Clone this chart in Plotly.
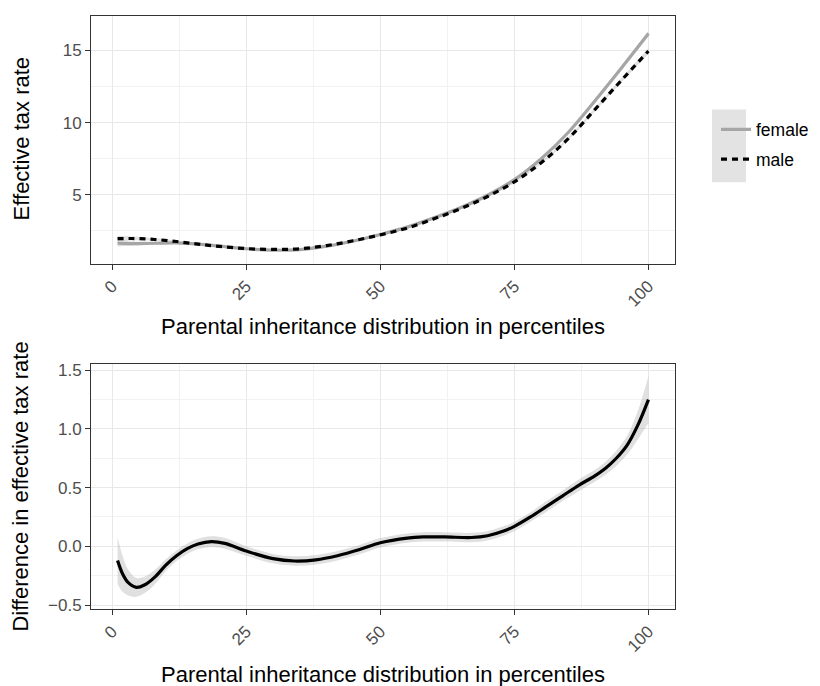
import plotly.graph_objects as go

# ---------------- data ----------------
pct = [1, 3, 5, 8, 12, 16, 20, 25, 30, 35, 40, 45, 50, 55, 60, 65, 70, 75, 80, 85, 90, 95, 100]
female_rate = [1.64, 1.62, 1.62, 1.64, 1.66, 1.58, 1.44, 1.26, 1.16, 1.2, 1.44, 1.8, 2.25, 2.76, 3.4, 4.12, 4.97, 6.05, 7.5, 9.3, 11.5, 13.8, 16.17]
female_se = [0.22, 0.16, 0.12, 0.09, 0.07, 0.06, 0.05, 0.05, 0.05, 0.05, 0.05, 0.05, 0.05, 0.05, 0.06, 0.06, 0.07, 0.08, 0.09, 0.1, 0.12, 0.14, 0.2]
male_rate = [1.96, 1.97, 1.96, 1.9, 1.76, 1.58, 1.42, 1.27, 1.21, 1.26, 1.48, 1.82, 2.22, 2.69, 3.33, 4.04, 4.88, 5.9, 7.22, 8.87, 10.9, 12.95, 14.96]
male_se = [0.2, 0.15, 0.11, 0.08, 0.07, 0.06, 0.05, 0.05, 0.05, 0.05, 0.05, 0.05, 0.05, 0.05, 0.06, 0.06, 0.07, 0.08, 0.09, 0.1, 0.12, 0.14, 0.2]

diff_pct = [1, 2, 3, 4.5, 6, 8, 10, 12, 14, 16, 18.5, 21, 25, 30, 34, 38, 42, 46, 50, 55, 58, 62, 67, 70, 73, 75, 78, 81, 84, 87, 90, 92, 94, 96, 98, 100]
diff_val = [-0.12, -0.24, -0.31, -0.35, -0.33, -0.26, -0.16, -0.08, -0.02, 0.02, 0.04, 0.025, -0.04, -0.105, -0.125, -0.115, -0.08, -0.03, 0.03, 0.07, 0.08, 0.08, 0.075, 0.09, 0.13, 0.17, 0.25, 0.34, 0.43, 0.52, 0.6, 0.665, 0.75, 0.86, 1.03, 1.25]
diff_se = [0.2, 0.15, 0.11, 0.08, 0.07, 0.06, 0.05, 0.045, 0.045, 0.045, 0.045, 0.045, 0.04, 0.04, 0.04, 0.04, 0.04, 0.04, 0.04, 0.04, 0.04, 0.04, 0.04, 0.04, 0.04, 0.04, 0.04, 0.045, 0.045, 0.05, 0.05, 0.055, 0.065, 0.08, 0.12, 0.2]

x_ticks = [0, 25, 50, 75, 100]
x_ticklabels = ["0", "25", "50", "75", "100"]
top_yticks = [5, 10, 15]
bot_yticks = [-0.5, 0.0, 0.5, 1.0, 1.5]

x_title = "Parental inheritance distribution in percentiles"
top_ytitle = "Effective tax rate"
bot_ytitle = "Difference in effective tax rate"

# ---------------- figure ----------------
RIB = "rgba(153,153,153,0.3)"
FONT = "Liberation Sans, Arial, sans-serif"
TICK_SIZE = 17
TITLE_SIZE = 22
LEG_SIZE = 17.5

fig = go.Figure()

def ribbon(x, y, se, xa, ya):
    up = [v + s for v, s in zip(y, se)]
    lo = [v - s for v, s in zip(y, se)]
    fig.add_trace(go.Scatter(x=x, y=up, mode="lines", line=dict(width=0, shape="spline"),
                             showlegend=False, hoverinfo="skip", xaxis=xa, yaxis=ya))
    fig.add_trace(go.Scatter(x=x, y=lo, mode="lines", line=dict(width=0, shape="spline"),
                             fill="tonexty", fillcolor=RIB, showlegend=False, hoverinfo="skip",
                             xaxis=xa, yaxis=ya))

ribbon(pct, female_rate, female_se, "x", "y")
ribbon(pct, male_rate, male_se, "x", "y")

fig.add_trace(go.Scatter(x=pct, y=female_rate, mode="lines", name="female",
                         line=dict(color="#A6A6A6", width=3.2, shape="spline"),
                         legendgroup="f", xaxis="x", yaxis="y"))
fig.add_trace(go.Scatter(x=pct, y=male_rate, mode="lines", name="male",
                         line=dict(color="black", width=3.2, dash="6px,5px", shape="spline"),
                         legendgroup="m", xaxis="x", yaxis="y"))

ribbon(diff_pct, diff_val, diff_se, "x2", "y2")
fig.add_trace(go.Scatter(x=diff_pct, y=diff_val, mode="lines", showlegend=False,
                         line=dict(color="black", width=3.2, shape="spline"),
                         xaxis="x2", yaxis="y2"))

# page has an 8px body margin: work in reference pixels, convert to figure pixels
OFF = 8
L, R, T, B = 91, 675, 13, 609
W, H = 820 - OFF, 686 - OFF
ph = B - T

def py(Y):
    return (B - Y) / ph

def px(X):
    return (X - L) / (R - L)

axis_common = dict(
    showline=True, linecolor="#333333", linewidth=1, mirror=True,
    ticks="outside", ticklen=5, tickcolor="#333333", tickwidth=1,
    showgrid=True, gridcolor="#E8E8E8", gridwidth=1.2,
    zeroline=False,
    tickfont=dict(family=FONT, size=TICK_SIZE, color="#4D4D4D"),
)

xaxis_common = dict(axis_common, range=[-3.95, 104.95], tickvals=x_ticks, ticktext=x_ticklabels,
                    tickangle=-45, minor=dict(showgrid=True, gridcolor="#F2F2F2", gridwidth=0.7,
                                              tickvals=[12.5, 37.5, 62.5, 87.5], ticks=""))

fig.update_layout(
    width=W, height=H,
    paper_bgcolor="white", plot_bgcolor="white",
    margin=dict(l=L - OFF, r=W - (R - OFF), t=T - OFF, b=H - (B - OFF)),
    font=dict(family=FONT, color="black"),
    xaxis=dict(xaxis_common, domain=[0, 1], anchor="y"),
    yaxis=dict(axis_common, domain=[py(262), 1], anchor="x", range=[0.22, 17.39],
               tickvals=top_yticks,
               minor=dict(showgrid=True, gridcolor="#F2F2F2", gridwidth=0.7,
                          tickvals=[2.5, 7.5, 12.5, 17.5], ticks="")),
    xaxis2=dict(xaxis_common, domain=[0, 1], anchor="y2"),
    yaxis2=dict(axis_common, domain=[0, py(363)], anchor="x2", range=[-0.534, 1.551],
                tickvals=bot_yticks, tickformat=".1f",
                minor=dict(showgrid=True, gridcolor="#F2F2F2", gridwidth=0.7,
                           tickvals=[-0.25, 0.25, 0.75, 1.25], ticks="")),
    showlegend=True,
    legend=dict(x=px(716), y=py(109), xanchor="left", yanchor="top",
                font=dict(family=FONT, size=LEG_SIZE, color="black"),
                bgcolor="rgba(0,0,0,0)", tracegroupgap=4, traceorder="grouped",
                itemwidth=30),
    shapes=[dict(type="rect", xref="paper", yref="paper",
                 x0=px(712), x1=px(746), y0=py(180), y1=py(107),
                 fillcolor="#E3E3E3", line=dict(width=0), layer="below")],
    annotations=[
        dict(text=x_title, xref="paper", yref="paper", x=0.5, y=py(325), showarrow=False,
             xanchor="center", yanchor="middle", font=dict(family=FONT, size=TITLE_SIZE, color="black")),
        dict(text=x_title, xref="paper", yref="paper", x=0.5, y=py(675), showarrow=False,
             xanchor="center", yanchor="middle", font=dict(family=FONT, size=TITLE_SIZE, color="black")),
        dict(text=top_ytitle, xref="paper", yref="paper", x=px(21), y=py(137), showarrow=False,
             textangle=-90, xanchor="center", yanchor="middle",
             font=dict(family=FONT, size=TITLE_SIZE, color="black")),
        dict(text=bot_ytitle, xref="paper", yref="paper", x=px(21), y=py(486), showarrow=False,
             textangle=-90, xanchor="center", yanchor="middle",
             font=dict(family=FONT, size=TITLE_SIZE, color="black")),
    ],
)

fig.write_html("out.html")
